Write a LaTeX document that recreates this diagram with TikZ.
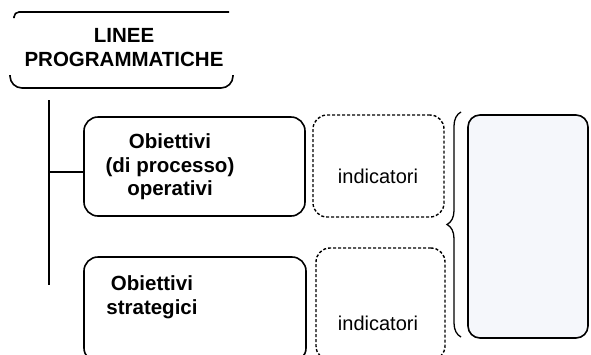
\documentclass[tikz,border=0pt]{standalone}
\usepackage{fontspec}
\setmainfont{Liberation Sans}
\usetikzlibrary{positioning,decorations.pathreplacing}
\definecolor{pale}{RGB}{245,247,251}

\begin{document}
\begin{tikzpicture}[x=1pt,y=-1pt,
  obbox/.style={draw,line width=1.6pt,rounded corners=14pt,inner sep=0pt},
  indbox/.style={draw,line width=1.4pt,dash pattern=on 3pt off 2pt,rounded corners=14pt,inner sep=0pt},
  btext/.style={font=\bfseries\fontsize{20.5}{24.5}\selectfont,align=center},
  itext/.style={font=\fontsize{20}{24}\selectfont}]
\useasboundingbox (0,0) rectangle (591,354);
\clip (0,0) rectangle (591,354);

\node[btext] (linee) at (124,47.5) {LINEE\\PROGRAMMATICHE};
\draw[line width=1.6pt,rounded corners=5pt] (14,18) -- (14,12) -- (229,12);
\draw[line width=1.6pt,rounded corners=12pt] (10,75) -- (10,88) -- (233,88) -- (233,75);

\node[obbox,minimum width=221pt,minimum height=99pt] (oper) at (194.5,166.5) {};
\node[obbox,minimum width=222pt,minimum height=105pt] (strat) at (195,309.5) {};
\node[btext,font=\bfseries\fontsize{20.5}{23.5}\selectfont] (opertxt) at (170,167) {Obiettivi\\(di processo)\\operativi};
\node[btext] (strattxt) at (152,297) {Obiettivi\\strategici};

\node[indbox,minimum width=131pt,minimum height=102pt] (ind1) at (378.5,166) {};
\node[indbox,minimum width=129pt,minimum height=112pt] (ind2) at (380.5,304) {};
\node[itext] (ind1txt) at (378,176) {indicatori};
\node[itext] (ind2txt) at (378,323) {indicatori};

\node[draw,fill=pale,line width=1.6pt,rounded corners=12pt,minimum width=120pt,minimum height=223pt] (nota) at (528,226.5) {};

\coordinate (ltop) at (49,100);
\coordinate (lbot) at (49,285);
\coordinate (lmid) at (49,172);
\draw[line width=1.6pt] (ltop) -- (lbot);
\draw[line width=1.6pt] (lmid) -- (lmid -| oper.west);

\draw[line width=1.3pt,decorate,decoration={brace,amplitude=14pt}] (461,337) -- (461,112);
\end{tikzpicture}
\end{document}
